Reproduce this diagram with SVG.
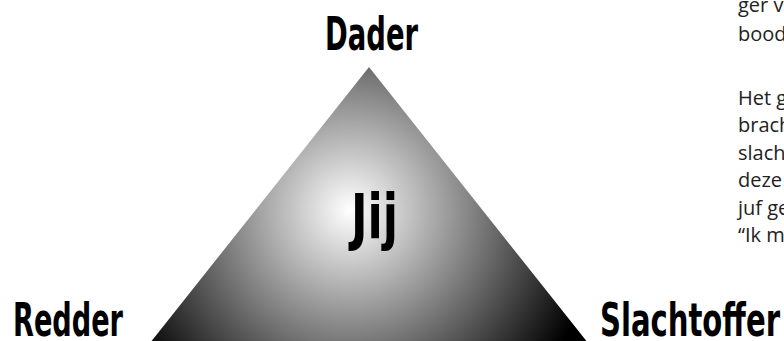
<svg xmlns="http://www.w3.org/2000/svg" width="784" height="341" viewBox="0 0 784 341">
<style>
.lbl{font-family:"DejaVu Sans Condensed","DejaVu Sans",sans-serif;font-weight:bold;fill:#000}
.body{font-family:"Open Sans","Liberation Sans",sans-serif;font-size:20px;fill:#222}
</style>
<defs>
<radialGradient id="g" gradientUnits="userSpaceOnUse" cx="350" cy="210" r="250">
<stop offset="0" stop-color="#fff"/>
<stop offset="1" stop-color="#000"/>
</radialGradient>
</defs>
<rect width="784" height="341" fill="#fff"/>
<g id="triangle">
<polygon points="369,67 150,343 588,343" fill="url(#g)"/>
</g>
<g id="dader"><text class="lbl" x="325" y="50" font-size="46" textLength="93" lengthAdjust="spacingAndGlyphs">Dader</text></g>
<g id="redder"><text class="lbl" x="13" y="336" font-size="46" textLength="110" lengthAdjust="spacingAndGlyphs">Redder</text></g>
<g id="slachtoffer"><text class="lbl" x="600" y="336" font-size="46" textLength="180" lengthAdjust="spacingAndGlyphs">Slachtoffer</text></g>
<g id="jij"><text class="lbl" x="351" y="238" font-size="62" textLength="47" lengthAdjust="spacingAndGlyphs">Jij</text></g>
<g id="bodytext">
<text class="body" x="738" y="12">ger v</text>
<text class="body" x="738" y="41">bood</text>
<text class="body" x="738" y="105">Het g</text>
<text class="body" x="738" y="132">brach</text>
<text class="body" x="738" y="160">slach</text>
<text class="body" x="738" y="187">deze</text>
<text class="body" x="738" y="215">juf ge</text>
<text class="body" x="738" y="242">“Ik m</text>
</g>
</svg>
